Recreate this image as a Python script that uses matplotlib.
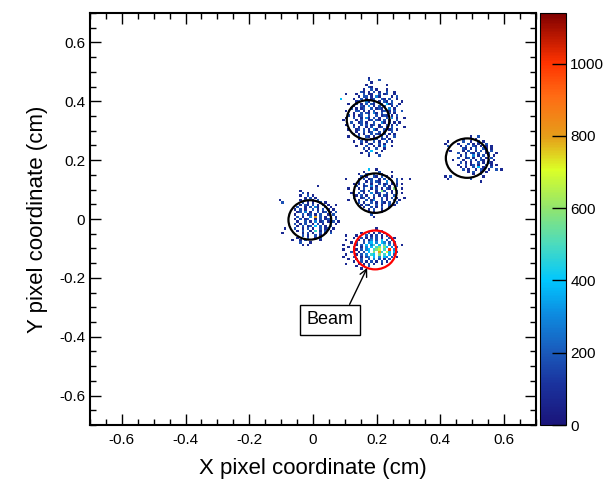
import numpy as np
import matplotlib
matplotlib.use("Agg")
import matplotlib.pyplot as plt
from matplotlib.colors import LinearSegmentedColormap
from matplotlib.patches import Circle
from matplotlib.ticker import MultipleLocator

plt.rcParams['font.family'] = ['Liberation Sans', 'DejaVu Sans']

# ---------------- data ----------------
x_range = (-0.7, 0.7)
y_range = (-0.7, 0.7)
bin_size = 0.008          # cm
z_max = 1140

# hit levels: '.' empty, digit -> counts
level_counts = {'1': 80, '2': 180, '3': 290, '4': 390, '5': 480,
                '6': 580, '7': 680, '8': 800, '9': 1000}

# cluster maps: (x_left, y_top) in cm, rows top -> bottom
top_origin = (0.085, 0.48)
top_rows = [
    "...........1",
    "...........2...2",
    "............1",
    "..........1.......1",
    "...........21",
    ".........1..2.1...1",
    "........21.1.2.1..2..1",
    "..1...1..2.11..2.12..1",
    ".......1.22.1.31....1.2",
    "4....1..2.1.12..21.2..1",
    "......12..31.2.1.21.2...1",
    "...1..2.1.2.21..2.412..1",
    ".....1..21.3.1.2.2..1.2",
    "....2.1.12..2.121..3.1",
    "..1...22.1.1.2..12.1.2..2",
    ".....1..2.21.31.2..2.1",
    "...2.1.12..2..2.121.1.2",
    "..1..2..1.31.2.1..2.3.1..1",
    ".1....1.2..12.21.2.1..2",
    "....2..12.1..2..31.2.1.1",
    "..1..1..2.2.12.1..2.1.2",
    ".....2.1..1.2..12.1.2....1",
    "...1..12.2.1.31..2.12.1",
    "......1..2.12..2.1..2",
    ".....2.1.1..2.21.2.1.1",
    "...1...2..21.1..2.1..2",
    ".......1.2..1.2.12.1",
    ".....1..2.1..2.1..2.1",
    "........1..21..2.1",
    "......1...2..1.1.3..1",
    ".........2.1..2..1",
    "..........1.4...1",
    "........1..2..1",
    "...........1...2",
]

right_origin = (0.412, 0.28)
right_rows = [
    "..........1..2",
    ".......1....1",
    "..1....2..1..2.1",
    ".1...1...2.1.1..2",
    "..2...1.2..21.1.1.1",
    ".......21.1.2..21..1",
    "...1...1.2..1.2.1.2",
    ".....2..1.21.2..12...1",
    "......1.2..3.1.2.1..1",
    ".....2..12.1..2.1.2",
    "....1..1..2.1.21.2..1",
    "......2.1.1..2.1.21",
    ".....1..2.12.1..2.1..1",
    "......1.1..2.4.1..2",
    ".......2.1..1.21.1...2.1",
    ".........1.2..1.1",
    "...........1..2",
    ".1.2...........1",
    "..1.......2",
    "..............1",
]

mid_origin = (0.094, 0.166)
mid_rows = [
    "..........4..1",
    "........1.....2....1",
    "......1..21.2..1",
    ".......2.1..21.2.1.1",
    ".1....1.2.12..1.2.1..2.1..1",
    "......2..1.2.21..3.1.2",
    "....1.1.2..1..2.12.1.1.1",
    ".....2..12.3.1..2.1..2",
    "..1...1.2..1.2.1.21.6..1",
    "....1..21.2..1.62..1.2",
    "...1..2.1..3.12..2.1.2.1",
    ".....1.2.1..2.1.21..2",
    "....2..12.2.1..2.1.2.1..1",
    "..1...1..2.13..2.1..2.1",
    "......2.1..2.1.21.2..2",
    ".......1.21..2.1..2.1",
    "........1..2.1.2..1",
    "..........1.2..1",
    "............1..1",
    "...........2",
    "............1",
]

left_origin = (-0.105, 0.115)
left_rows = [
    "...............1",
    "",
    "........1",
    ".........2.1",
    "........1..2.1",
    "..........1.2.1",
    "1.......1.2..1.2",
    ".2.......2.1.1..2.1",
    "........1.21.2.1.2.1..1",
    ".......2..1.2.31..2.1",
    "......1.2.1..2.1.2.1.1",
    ".......12.3.1..2.12.1.2",
    "......1..2.12.1.2..1.2",
    ".......2.1..3.8.2.1.2.1",
    "......1.2.12..1.2.12..2",
    ".......1..2.1.3.12.1.2.1",
    "......2.1.2..1.2.1..2.1",
    ".......1.2.12.4.2.1.2",
    "..1...2..1.2.1..2.12.1",
    ".......1.2..1.5.1.2.1",
    ".1.......1.2.1..2.1.2",
    ".........2.1..2.1",
    ".......1...2..1.2",
    ".....1..1.2.....1",
    "........2...1",
    ".........1.1",
]

beam_origin = (0.085, -0.03)
beam_rows = [
    "..............1",
    "............1...2",
    "........1..2.1.2.1",
    "..1...1...2.1.2.1.2",
    ".....1..2.1.2.2.1..2.1",
    "..1....1.2.13.2.4.2.1",
    "....1.2..2.34.3.43.2.2",
    ".1....1.2.4.35.4.5.3.2..1",
    "...1.2..1.3.4.56.64.3.2",
    ".1....1.2.34.567.5.9.3",
    "....2..1.2.4.6.85.74.42",
    "..1...1.2.3.54.6.5.4.2",
    ".1...2..1.23.4.3.43.2.1",
    "...1..1.2..2.3.2.1.2",
    ".....1..2.1.2.1.2.1",
    "..1....1.1.2.1..1",
    "......1..1.2",
    "........1",
]

clusters = [(top_origin, top_rows), (right_origin, right_rows),
            (mid_origin, mid_rows), (left_origin, left_rows),
            (beam_origin, beam_rows)]

# circles: (x, y, radius, colour)
circle_x = [0.173, 0.484, 0.195, -0.010, 0.195]
circle_y = [0.337, 0.207, 0.088, -0.003, -0.105]
circle_r = [0.067, 0.067, 0.067, 0.067, 0.066]
circle_c = ['black', 'black', 'black', 'black', 'red']

# ---------------- histogram ----------------
nx = int(round((x_range[1] - x_range[0]) / bin_size))
ny = int(round((y_range[1] - y_range[0]) / bin_size))
H = np.zeros((ny, nx))
for (x0, y0), rows in clusters:
    for r, row in enumerate(rows):
        for c, ch in enumerate(row):
            if ch in level_counts:
                xc = x0 + c * bin_size
                yc = y0 - r * bin_size
                ix = int(np.floor((xc - x_range[0]) / bin_size))
                iy = int(np.floor((yc - y_range[0]) / bin_size))
                H[iy, ix] = level_counts[ch]

xe = np.linspace(x_range[0], x_range[1], nx + 1)
ye = np.linspace(y_range[0], y_range[1], ny + 1)

cmap = LinearSegmentedColormap.from_list('rootrainbow', [
    (0.00, (0.10, 0.08, 0.48)),
    (0.10, (0.10, 0.20, 0.62)),
    (0.18, (0.10, 0.36, 0.74)),
    (0.27, (0.05, 0.55, 0.88)),
    (0.35, (0.00, 0.78, 1.00)),
    (0.44, (0.30, 0.86, 0.74)),
    (0.53, (0.58, 0.90, 0.42)),
    (0.62, (0.86, 1.00, 0.15)),
    (0.70, (0.90, 0.62, 0.10)),
    (0.80, (1.00, 0.42, 0.08)),
    (0.88, (1.00, 0.20, 0.00)),
    (1.00, (0.50, 0.00, 0.00)),
])
cmap.set_bad('white')

fig = plt.figure(figsize=(6.06, 4.83), dpi=100)
ax = fig.add_axes([0.1485, 0.120, 0.736, 0.853])
cax = fig.add_axes([0.891, 0.120, 0.043, 0.853])

Hm = np.ma.masked_where(H <= 0, H)
mesh = ax.pcolormesh(xe, ye, Hm, cmap=cmap, vmin=0, vmax=z_max)

for x, y, r, c in zip(circle_x, circle_y, circle_r, circle_c):
    ax.add_patch(Circle((x, y), r, fill=False, edgecolor=c, linewidth=1.6))

ax.annotate('Beam', xy=(0.170, -0.166), xytext=(0.053, -0.342),
            fontsize=13, ha='center', va='center',
            bbox=dict(boxstyle='square,pad=0.35', fc='white', ec='black', lw=1),
            arrowprops=dict(arrowstyle='->', color='black', lw=1,
                            shrinkA=0, shrinkB=0,
                            relpos=(0.85, 1.0)))

ax.set_xlim(*x_range)
ax.set_ylim(*y_range)
ax.xaxis.set_major_locator(MultipleLocator(0.2))
ax.xaxis.set_minor_locator(MultipleLocator(0.05))
ax.yaxis.set_major_locator(MultipleLocator(0.2))
ax.yaxis.set_minor_locator(MultipleLocator(0.05))
ax.xaxis.set_major_formatter(plt.FuncFormatter(lambda v, p: '0' if abs(v) < 1e-9 else f'{v:g}'))
ax.yaxis.set_major_formatter(plt.FuncFormatter(lambda v, p: '0' if abs(v) < 1e-9 else f'{v:g}'))
ax.tick_params(which='both', direction='in', top=True, right=True, labelsize=11)
ax.tick_params(which='major', length=8, width=1)
ax.tick_params(which='minor', length=4, width=1)
ax.tick_params(axis='x', pad=6)
for s in ax.spines.values():
    s.set_linewidth(1.5)
ax.set_xlabel('X pixel coordinate (cm)', fontsize=16, labelpad=8)
ax.set_ylabel('Y pixel coordinate (cm)', fontsize=16, labelpad=8)

cb = fig.colorbar(mesh, cax=cax)
cb.set_ticks([0, 200, 400, 600, 800, 1000])
cb.ax.tick_params(direction='in', length=10, width=1, labelsize=11, pad=3)
cb.outline.set_linewidth(0.8)
cb.ax.minorticks_off()

fig.savefig('out.png', dpi=100)
